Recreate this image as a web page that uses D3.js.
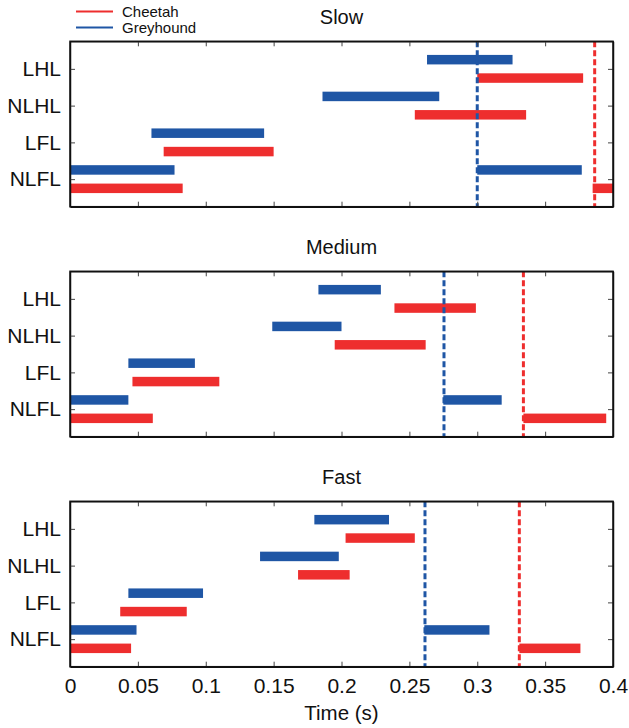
<!DOCTYPE html>
<html lang="en">
<head>
<meta charset="UTF-8">
<title>Gait timing</title>
<script src="https://d3js.org/d3.v7.min.js"></script>
<style>
  body { margin: 0; padding: 0; background: #fff; }
  text { font-family: "Liberation Sans", Arial, sans-serif; fill: #111; }
</style>
</head>
<body>
<svg width="629" height="728"></svg>
<script>
  // limb categories, bottom to top
  const limbs = ["NLFL", "LFL", "NLHL", "LHL"];
  const speeds = ["Slow", "Medium", "Fast"];
  const xTicks = [0, 0.05, 0.1, 0.15, 0.2, 0.25, 0.3, 0.35, 0.4];

  // stance intervals [limb, start, end] in seconds
  const cheetahSlow = [["LHL", 0.300, 0.378], ["NLHL", 0.254, 0.336], ["LFL", 0.069, 0.150],
                       ["NLFL", 0, 0.083], ["NLFL", 0.385, 0.45]];
  const greySlow = [["LHL", 0.263, 0.326], ["NLHL", 0.186, 0.272], ["LFL", 0.060, 0.143],
                    ["NLFL", 0, 0.077], ["NLFL", 0.300, 0.377]];
  const cheetahMedium = [["LHL", 0.239, 0.299], ["NLHL", 0.195, 0.262], ["LFL", 0.046, 0.110],
                         ["NLFL", 0, 0.061], ["NLFL", 0.334, 0.395]];
  const greyMedium = [["LHL", 0.183, 0.229], ["NLHL", 0.149, 0.200], ["LFL", 0.043, 0.092],
                      ["NLFL", 0, 0.043], ["NLFL", 0.275, 0.318]];
  const cheetahFast = [["LHL", 0.203, 0.254], ["NLHL", 0.168, 0.206], ["LFL", 0.037, 0.086],
                       ["NLFL", 0, 0.045], ["NLFL", 0.331, 0.376]];
  const greyFast = [["LHL", 0.180, 0.235], ["NLHL", 0.140, 0.198], ["LFL", 0.043, 0.098],
                    ["NLFL", 0, 0.049], ["NLFL", 0.261, 0.309]];

  // stride period markers (dashed lines)
  const cheetahStride = [0.3865, 0.334, 0.331];
  const greyStride = [0.300, 0.2755, 0.2615];

  const cheetahData = [cheetahSlow, cheetahMedium, cheetahFast];
  const greyData = [greySlow, greyMedium, greyFast];

  const red = "#ee2e2e", blue = "#1f56a5";
  const svg = d3.select("svg");
  const left = 70, right = 613, panelH = 165.4;
  const tops = [41.3, 271.3, 501.3];

  const x = d3.scaleLinear().domain([0, 0.4]).range([left, right]);

  speeds.forEach(function (sp, i) {
    const top = tops[i];
    const y = d3.scaleLinear().domain([0.25, 4.75]).range([top + panelH, top]);
    const yOf = function (name) { return y(limbs.indexOf(name) + 1); };
    const g = svg.append("g");

    const clipId = "clip" + i;
    g.append("clipPath").attr("id", clipId).append("rect")
      .attr("x", left).attr("y", top).attr("width", right - left).attr("height", panelH);

    const plot = g.append("g").attr("clip-path", "url(#" + clipId + ")");
    const barH = 9.5, off = 9.2;

    plot.selectAll(".grey").data(greyData[i]).enter().append("rect")
      .attr("x", d => x(d[1])).attr("width", d => x(d[2]) - x(d[1]))
      .attr("y", d => yOf(d[0]) - off - barH / 2).attr("height", barH)
      .attr("fill", blue);

    plot.selectAll(".cheetah").data(cheetahData[i]).enter().append("rect")
      .attr("x", d => x(d[1])).attr("width", d => x(d[2]) - x(d[1]))
      .attr("y", d => yOf(d[0]) + off - barH / 2).attr("height", barH)
      .attr("fill", red);

    [[greyStride[i], blue], [cheetahStride[i], red]].forEach(function (s) {
      plot.append("line")
        .attr("x1", x(s[0])).attr("x2", x(s[0]))
        .attr("y1", top).attr("y2", top + panelH)
        .attr("stroke", s[1]).attr("stroke-width", 3)
        .attr("stroke-dasharray", "6,3");
    });

    // axes with inward ticks on all four sides
    const showX = i === speeds.length - 1;
    const axB = d3.axisBottom(x).tickValues(xTicks).tickSizeInner(-5).tickSizeOuter(0)
      .tickFormat(showX ? d3.format("") : () => "").tickPadding(11);
    const axT = d3.axisTop(x).tickValues(xTicks).tickSizeInner(-5).tickSizeOuter(0).tickFormat(() => "");
    const axL = d3.axisLeft(y).tickValues([1, 2, 3, 4]).tickSizeInner(-5).tickSizeOuter(0)
      .tickFormat(d => limbs[d - 1]).tickPadding(9);
    const axR = d3.axisRight(y).tickValues([1, 2, 3, 4]).tickSizeInner(-5).tickSizeOuter(0).tickFormat(() => "");

    [[axB, 0, top + panelH], [axT, 0, top], [axL, left, 0], [axR, right, 0]].forEach(function (a) {
      const ga = g.append("g").attr("transform", "translate(" + a[1] + "," + a[2] + ")").call(a[0]);
      ga.select(".domain").attr("stroke", "#111").attr("stroke-width", 1.5);
      ga.selectAll(".tick line").attr("stroke", "#444").attr("stroke-width", 1);
      ga.selectAll("text").attr("font-size", 21).attr("fill", "#111")
        .style("font-family", "'Liberation Sans', Arial, sans-serif");
    });
    // ensure corners are closed
    g.append("rect").attr("x", left).attr("y", top).attr("width", right - left).attr("height", panelH)
      .attr("fill", "none").attr("stroke", "#111").attr("stroke-width", 1.5);

    g.append("text").attr("x", (left + right) / 2).attr("y", top - 17)
      .attr("text-anchor", "middle").attr("font-size", 20).text(sp);
  });

  svg.append("text").attr("x", (left + right) / 2).attr("y", 720)
    .attr("text-anchor", "middle").attr("font-size", 20.5).text("Time (s)");

  // legend
  const legend = [["Cheetah", red], ["Greyhound", blue]];
  legend.forEach(function (l, k) {
    const ly = 11.5 + k * 16;
    svg.append("line").attr("x1", 76).attr("x2", 113).attr("y1", ly).attr("y2", ly)
      .attr("stroke", l[1]).attr("stroke-width", 2);
    svg.append("text").attr("x", 122).attr("y", ly + 5.5).attr("font-size", 15).text(l[0]);
  });
</script>
</body>
</html>
